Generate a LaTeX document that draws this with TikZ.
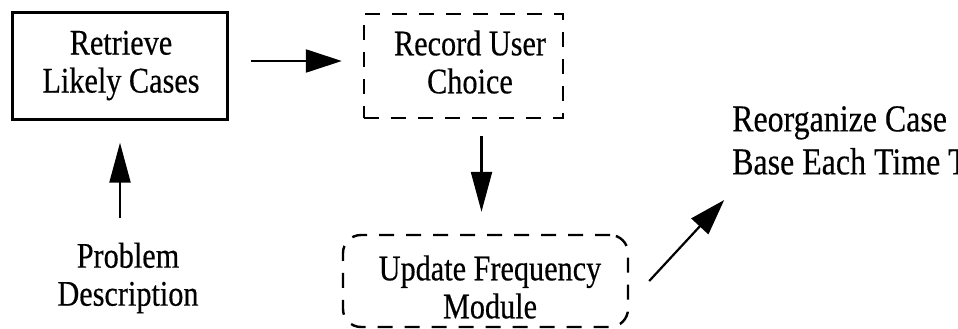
\documentclass[tikz,border=0pt]{standalone}
\usepackage{fontspec}
\setmainfont{Liberation Serif}[FakeStretch=0.84, FakeBold=0.4]
\usetikzlibrary{arrows.meta}

\tikzset{
  lbl/.style={inner sep=0pt, align=center, font=\fontsize{36}{38}\selectfont},
  solidbox/.style={draw, line width=2.4pt, inner sep=0pt},
  dashbox/.style={draw, line width=2.4pt, dash pattern=on 15pt off 12pt, inner sep=0pt},
  arr/.style={line width=2.2pt, -{Triangle[length=40pt,width=21pt]}},
  harr/.style={line width=2.2pt, -{Triangle[length=36pt,width=23pt]}},
}

\begin{document}
\begin{tikzpicture}[x=1pt, y=-1pt]
  \useasboundingbox (0,0) rectangle (958,329);
  \clip (0,0) rectangle (958,329);

  % process boxes
  \node[solidbox, minimum width=215pt, minimum height=107pt] (ret) at (120,66) {};
  \node[dashbox, minimum width=199pt, minimum height=104pt] (rec) at (463.5,66) {};
  \node[dashbox, rounded corners=18pt, minimum width=285pt, minimum height=92pt] (upd) at (485.5,281) {};

  % box captions
  \node[lbl] (retT) at (121,65.5) {Retrieve\\Likely Cases};
  \node[lbl] (recT) at (470,62) {Record User\\Choice};
  \node[lbl] (updT) at (490,287) {Update Frequency\\Module};

  % free-standing texts
  \node[lbl] (prob) at (128,278) {Problem\\Description};
  \node[inner sep=0pt, align=left, anchor=north west,
        font=\fontsize{38}{43}\selectfont] (reorg) at (732,106) {Reorganize Case\\Base Each Time T};

  % connectors
  \draw[harr, shorten <=22pt, shorten >=21pt]
    ([yshift=5pt]ret.east) -- ([yshift=5pt]ret.east -| rec.west);
  \draw[arr, shorten <=24pt, shorten >=22pt]
    (prob.north -| ret.south) -- (ret.south);
  \draw[arr, shorten <=17pt, shorten >=22pt]
    ([xshift=18pt]rec.south) -- ([xshift=18pt]rec.south |- upd.north);
  \coordinate (updOut) at ([xshift=20pt]upd.east);
  \coordinate (reorgTip) at ([shift={(95pt,81pt)}]upd.east);
  \draw[harr] (updOut) -- (reorgTip);
\end{tikzpicture}
\end{document}
